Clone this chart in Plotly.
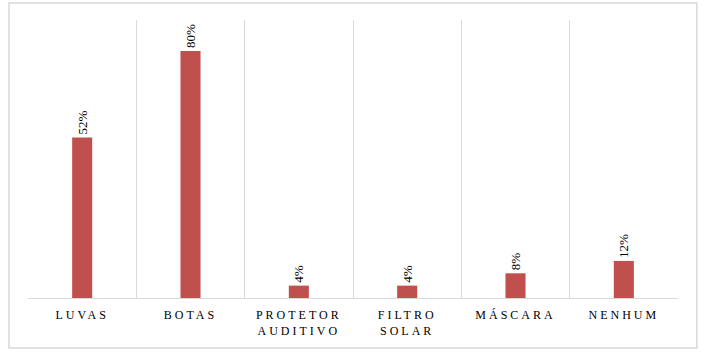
import plotly.graph_objects as go

categories = ["LUVAS", "BOTAS", "PROTETOR<br>AUDITIVO", "FILTRO<br>SOLAR", "MÁSCARA", "NENHUM"]
values = [0.52, 0.80, 0.04, 0.04, 0.08, 0.12]
labels = ["52%", "80%", "4%", "4%", "8%", "12%"]

fig = go.Figure(go.Bar(
    x=categories, y=values, text=labels,
    textposition="outside", textangle=-90, constraintext="none",
    textfont=dict(family="Liberation Serif", size=13, color="#000000"),
    marker=dict(color="#C0504D", line=dict(width=0)),
    width=0.185, cliponaxis=False,
))

fig.update_layout(
    width=707, height=357,
    margin=dict(l=28, r=29, t=20, b=59),
    paper_bgcolor="white", plot_bgcolor="white",
    showlegend=False,
    font=dict(family="Liberation Serif", color="#000000"),
    xaxis=dict(
        type="category", tickson="boundaries", showgrid=True,
        gridcolor="#d9d9d9", gridwidth=1, ticks="", showline=True,
        linecolor="#d9d9d9", linewidth=1, ticklabelstandoff=6,
        tickfont=dict(family="Liberation Serif", size=12, color="#000000"),
    ),
    yaxis=dict(range=[0, 0.9], showgrid=False, showticklabels=False,
               zeroline=False, showline=False, ticks=""),
    shapes=[dict(type="rect", xref="paper", yref="paper",
                 x0=-0.0292, x1=1.029, y0=-0.18, y1=1.061,
                 line=dict(color="#d9d9d9", width=1.5))],
)

post = """
document.body.style.margin = '0';
document.body.style.padding = '0';
document.querySelectorAll('.xtick text, .xtick tspan').forEach(function(t){
  t.style.letterSpacing = '3px';
});
"""
fig.write_html("out.html", post_script=post, config={"displayModeBar": False})
